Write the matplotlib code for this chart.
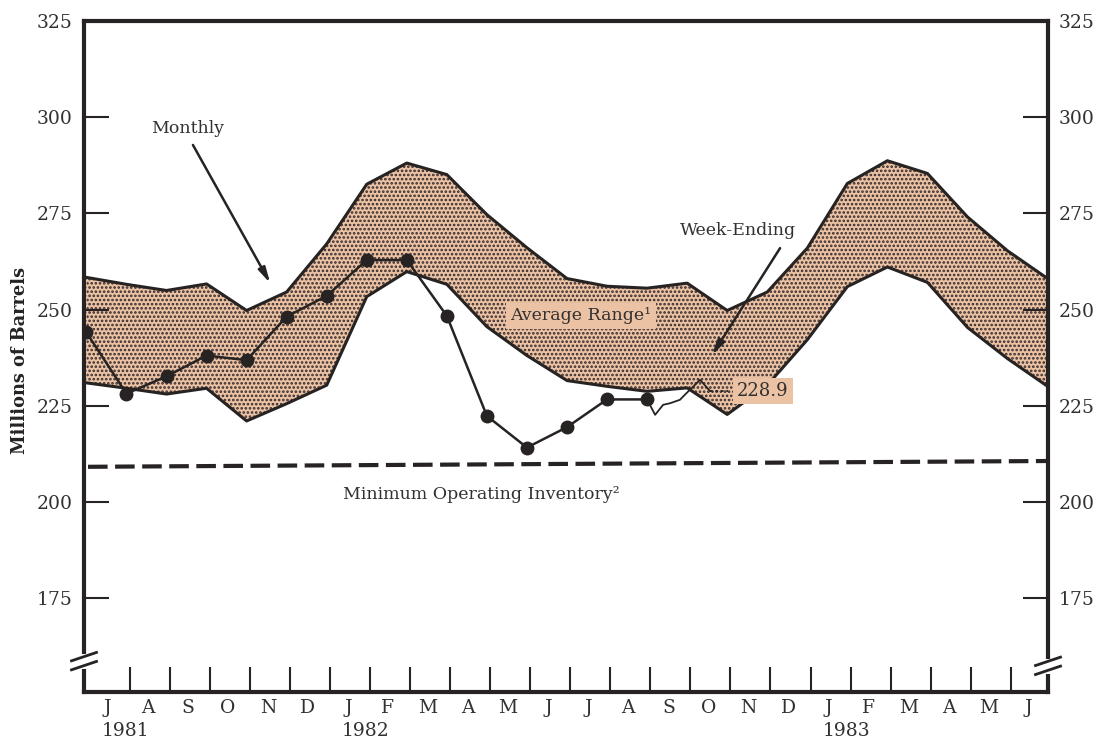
import numpy as np
import matplotlib
matplotlib.use("Agg")
import matplotlib.pyplot as plt
from matplotlib.lines import Line2D
from matplotlib.transforms import IdentityTransform, blended_transform_factory

# months counted from the end of June 1981 (0) to the end of June 1983 (24)
month_labels = ["J", "A", "S", "O", "N", "D", "J", "F", "M", "A", "M", "J",
                "J", "A", "S", "O", "N", "D", "J", "F", "M", "A", "M", "J"]
year_labels = ["1981", "1982", "1983"]
year_starts = [0, 6, 18]

y_ticks = [175, 200, 225, 250, 275, 300, 325]

# average range band, one value per month end
band_months = np.arange(25)
band_upper = [258.4, 256.6, 255.0, 256.7, 249.8, 254.6, 267.1, 282.6, 288.1,
              285.1, 274.7, 266.1, 258.1, 256.1, 255.6, 256.9, 249.8, 254.6,
              266.0, 282.8, 288.7, 285.4, 274.1, 265.3, 258.1]
band_lower = [231.0, 229.6, 228.1, 229.6, 221.1, 225.6, 230.4, 253.4, 259.9,
              256.6, 245.6, 238.1, 231.6, 230.1, 228.8, 229.7, 222.8, 230.4,
              242.2, 256.0, 261.1, 257.1, 245.4, 237.3, 230.1]

# monthly stocks, end of Jun 1981 .. end of Aug 1982
monthly_months = np.arange(15)
monthly_stocks = [244.1, 228.2, 232.7, 238.1, 236.9, 248.2, 253.6, 262.9,
                  262.9, 248.4, 222.4, 214.2, 219.5, 226.7, 226.7]

# week-ending stocks, Sep - Oct 1982
weekly_months = [14.12, 14.32, 14.49, 14.74, 14.90, 15.03, 15.24, 15.49]
weekly_stocks = [222.7, 225.3, 225.7, 226.6, 228.3, 229.6, 231.8, 228.9]
latest_label = "228.9"

# minimum operating inventory (left edge, right edge)
min_inventory = [209.2, 210.7]

x_shift = -0.08   # data sits a little before the month boundary tick
dark = "#262322"
text_col = "#333030"
peach = "#ebc2a4"
dots = "#34292a"

plt.rcParams["font.family"] = ["DejaVu Serif"]
plt.rcParams["hatch.linewidth"] = 1.25

fig = plt.figure(figsize=(10.96, 7.47), dpi=100)
ax = fig.add_axes([84 / 1096, 55 / 747, 964 / 1096, 671 / 747])
ax.set_xlim(-0.14, 23.93)
ax.set_ylim(150.7, 325)

# band
bx = band_months + x_shift
ax.fill_between(bx, band_lower, band_upper, facecolor=peach, edgecolor=dots,
                hatch="....", linewidth=0, zorder=1)
ax.plot(bx, band_upper, color=dark, lw=2.2, zorder=2)
ax.plot(bx, band_lower, color=dark, lw=2.2, zorder=2)

# minimum operating inventory
x0, x1 = ax.get_xlim()
ax.plot([x0 + 0.1, x1 - 0.05], min_inventory, color=dark, lw=3,
        dashes=(4.7, 1.8), zorder=2, solid_capstyle="butt")

# monthly + weekly
mx = monthly_months + x_shift
ax.plot(mx, monthly_stocks, "-o", color=dark, lw=1.8, ms=9, zorder=4)
ax.plot([mx[-1]] + weekly_months, [monthly_stocks[-1]] + weekly_stocks,
        color=dark, lw=1.3, zorder=4)
ax.plot([weekly_months[-1], 15.94], [weekly_stocks[-1], weekly_stocks[-1]],
        color=dark, lw=1.3, ls=(0, (1.5, 1.5)), zorder=4)

# labels
box = dict(facecolor=peach, edgecolor="none", pad=3)
ax.text(16.17, weekly_stocks[-1], latest_label, ha="left", va="center",
        fontsize=13, color=text_col, bbox=box, zorder=5)
ax.text(12.27, 248.4, "Average Range¹", ha="center", va="center",
        fontsize=12.5, color=text_col, bbox=box, zorder=5)
ax.text(2.46, 297.2, "Monthly", ha="center", va="center", fontsize=12.5,
        color=text_col)
ax.text(16.19, 270.7, "Week-Ending", ha="center", va="center", fontsize=12.5,
        color=text_col)
ax.text(9.79, 202.0, "Minimum Operating Inventory²", ha="center", va="center",
        fontsize=12.5, color=text_col)

arrow = dict(arrowstyle="-|>,head_length=0.9,head_width=0.22", color=dark,
             lw=1.8, shrinkA=0, shrinkB=0)
ax.annotate("", xy=(4.51, 256.9), xytext=(2.58, 292.8), arrowprops=arrow,
            zorder=5)
ax.annotate("", xy=(15.54, 238.2), xytext=(17.24, 266.0), arrowprops=arrow,
            zorder=5)

# axes styling
for s in ax.spines.values():
    s.set_linewidth(3)
    s.set_color(dark)

ax.set_yticks(y_ticks)
ax.tick_params(axis="y", direction="in", length=18, width=1.5, color=dark,
               left=True, right=True, labelleft=True, labelright=True,
               labelsize=13.5, labelcolor=text_col, pad=8)
ax.set_xticks(np.arange(1, 24))
ax.set_xticklabels([])
ax.tick_params(axis="x", which="major", direction="in", length=18, width=1.5,
               color=dark)
ax.set_xticks(np.arange(24) + 0.45, minor=True)
ax.set_xticklabels(month_labels, minor=True)
ax.tick_params(axis="x", which="minor", length=0, labelsize=13.5,
               labelcolor=text_col, pad=5)

trans = blended_transform_factory(ax.transData, ax.transAxes)
for lab, m in zip(year_labels, year_starts):
    ax.text(m + 0.3, -0.058, lab, transform=trans, ha="left", va="center",
            fontsize=13.5, color=text_col)

fig.text(0.018, 0.518, "Millions of Barrels", rotation=90, ha="center",
         va="center", fontsize=12.8, fontweight="bold", color=dark)


# axis break marks on both vertical spines
def axis_break(xa, ya):
    cx, cy = ax.transAxes.transform((xa, ya))
    fig.add_artist(Line2D([cx, cx], [cy - 4, cy + 4], color="white", lw=5,
                          transform=IdentityTransform()))
    for dy in (-4.5, 4.5):
        fig.add_artist(Line2D([cx - 12.5, cx + 12.5],
                              [cy + dy - 4.2, cy + dy + 4.2], color=dark,
                              lw=2, transform=IdentityTransform()))


axis_break(0, 0.046)
axis_break(1, 0.039)

fig.savefig("out.png", dpi=100)
